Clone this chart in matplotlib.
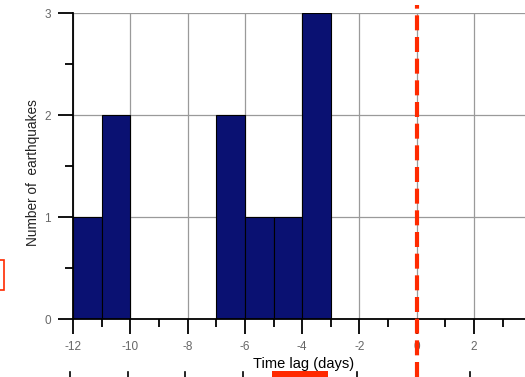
import numpy as np
import matplotlib
matplotlib.use('Agg')
import matplotlib.pyplot as plt
from matplotlib.patches import Rectangle
from matplotlib.lines import Line2D

plt.rcParams['font.family'] = ['Liberation Sans', 'DejaVu Sans']
plt.rcParams['axes.unicode_minus'] = False

# histogram bins (left edge, days) and counts
bin_left = [-12, -11, -7, -6, -5, -4]
counts = [1, 2, 2, 1, 1, 3]
bin_width = 1
event_day = 0
x_major = np.arange(-12, 4, 2)
y_major = [0, 1, 2, 3]

fig = plt.figure(figsize=(5.25, 3.77), dpi=100)
ax = fig.add_axes([73/525, 1 - 319/377, 1 - 73/525, (319 - 13)/377])

ax.bar(bin_left, counts, width=bin_width, align='edge',
       color='#0a1172', edgecolor='black', linewidth=0.8, zorder=2)

ax.set_xlim(-12, 3.78)
ax.set_ylim(0, 3)
ax.set_xticks(x_major)
ax.set_xticks(np.arange(-12, 4, 1), minor=True)
ax.set_yticks(y_major)
ax.set_yticks(np.arange(0, 3.01, 0.5), minor=True)
ax.grid(True, which='major', color='#9a9a9a', linewidth=0.9, zorder=0)
ax.set_axisbelow(True)

for s in ['top', 'right']:
    ax.spines[s].set_visible(False)
for s in ['left', 'bottom']:
    ax.spines[s].set_linewidth(1.3)

ax.tick_params(which='major', direction='out', length=11, width=1.3,
               labelsize=8.5, labelcolor='#666666', pad=5)
ax.tick_params(which='minor', direction='out', length=6, width=1.3)

ax.set_xlabel('Time lag (days)', fontsize=10.5, labelpad=3)
ax.set_ylabel('Number of  earthquakes', fontsize=9.8, labelpad=3, color='#222222')
ax.xaxis.label.set_x(0.51)
ax.yaxis.label.set_y(0.48)

# event time marker
ax.axvline(event_day, ymin=-0.19, ymax=1.025, color='#ff2a00', linewidth=3,
           dashes=(3.6, 1.6), clip_on=False, zorder=5)

# cropped remnants around the figure
fig.patches.append(Rectangle((-0.01, 1 - 290/377), 0.018, 30/377, transform=fig.transFigure,
                             fill=False, edgecolor='#ff2a00', linewidth=1.2))
fig.patches.append(Rectangle((272/525, 0), 56/525, 6/377, transform=fig.transFigure,
                             facecolor='#ff2a00', edgecolor='none'))
for px in [70, 128, 185, 243, 357, 470]:
    fig.lines.append(Line2D([px/525, px/525], [0, 5/377], transform=fig.transFigure,
                            color='black', linewidth=1.2))

plt.savefig('out.png', dpi=100)
